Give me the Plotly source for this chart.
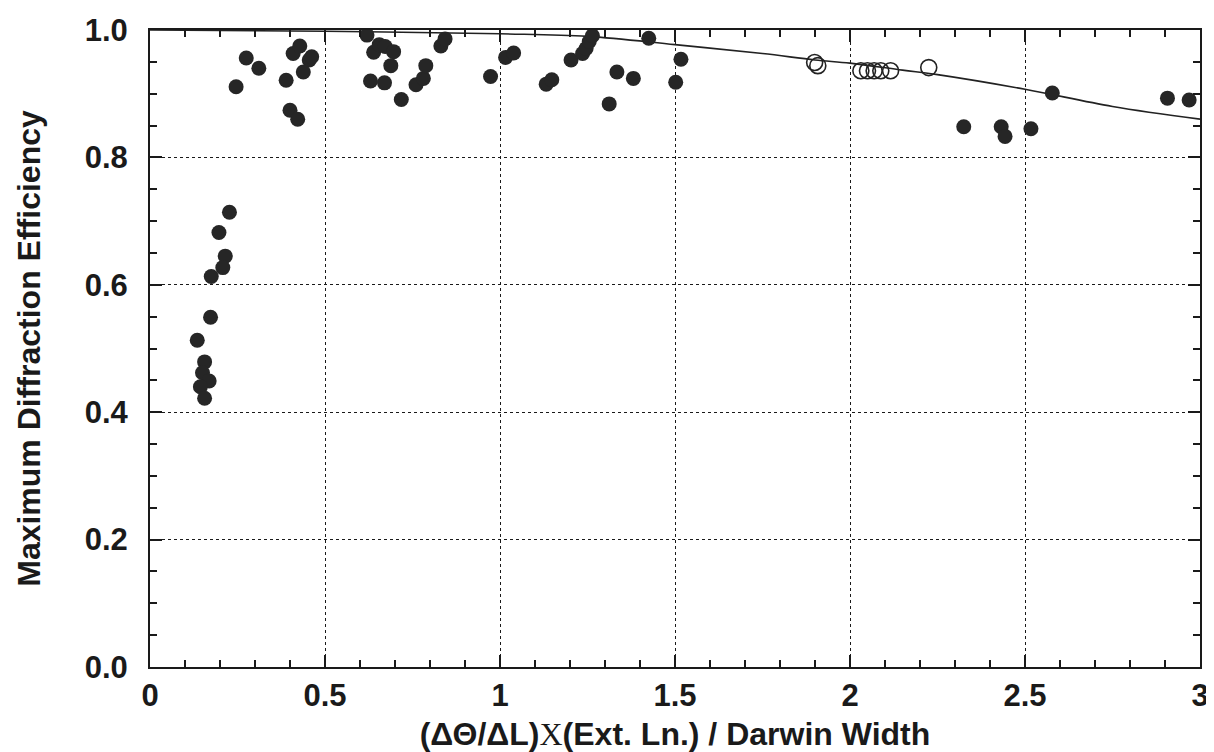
import plotly.graph_objects as go

# Measured (filled circles)
filled_x = [0.246, 0.275, 0.311, 0.389, 0.400, 0.422, 0.409, 0.428, 0.455, 0.462, 0.438,
            0.620, 0.639, 0.655, 0.672, 0.696, 0.688, 0.630, 0.670, 0.718, 0.760, 0.781,
            0.788, 0.831, 0.843, 0.973, 1.016, 1.039,
            0.227, 0.197, 0.215, 0.208, 0.175, 0.173, 0.135, 0.156, 0.150, 0.169, 0.144, 0.156,
            1.132, 1.148, 1.203, 1.236, 1.246, 1.255, 1.264, 1.425, 1.334, 1.381, 1.312,
            1.517, 1.502,
            2.325, 2.432, 2.443, 2.517, 2.578, 2.907, 2.969]
filled_y = [0.911, 0.956, 0.940, 0.921, 0.874, 0.860, 0.963, 0.975, 0.953, 0.958, 0.934,
            0.992, 0.965, 0.977, 0.974, 0.966, 0.944, 0.920, 0.917, 0.891, 0.914, 0.924,
            0.944, 0.975, 0.986, 0.927, 0.957, 0.964,
            0.714, 0.682, 0.645, 0.627, 0.613, 0.549, 0.513, 0.479, 0.462, 0.449, 0.440, 0.422,
            0.915, 0.922, 0.953, 0.963, 0.971, 0.982, 0.991, 0.987, 0.934, 0.924, 0.884,
            0.954, 0.918,
            0.848, 0.848, 0.833, 0.845, 0.901, 0.893, 0.890]

# Open circles
open_x = [1.899, 1.908, 2.031, 2.050, 2.069, 2.088, 2.116, 2.225]
open_y = [0.949, 0.944, 0.936, 0.936, 0.936, 0.936, 0.936, 0.941]

# Theory curve
curve_x = [0.0, 0.5, 1.0, 1.25, 1.5, 1.75, 1.9, 2.0, 2.15, 2.25, 2.5, 2.75, 3.0]
curve_y = [1.0, 0.998, 0.994, 0.990, 0.977, 0.963, 0.953, 0.948, 0.937, 0.930, 0.907, 0.880, 0.860]

x_ticks = [0, 0.5, 1, 1.5, 2, 2.5, 3]
x_tick_labels = ["0", "0.5", "1", "1.5", "2", "2.5", "3"]
y_ticks = [0.0, 0.2, 0.4, 0.6, 0.8, 1.0]
y_tick_labels = ["0.0", "0.2", "0.4", "0.6", "0.8", "1.0"]

fig = go.Figure()
fig.add_trace(go.Scatter(x=curve_x, y=curve_y, mode="lines",
                         line=dict(color="#222222", width=1.6, shape="spline"),
                         showlegend=False, hoverinfo="skip"))
fig.add_trace(go.Scatter(x=filled_x, y=filled_y, mode="markers",
                         marker=dict(symbol="circle", size=15, color="#262626",
                                     line=dict(width=0)),
                         showlegend=False))
fig.add_trace(go.Scatter(x=open_x, y=open_y, mode="markers",
                         marker=dict(symbol="circle-open", size=16, color="#222222",
                                     line=dict(width=1.6)),
                         showlegend=False))

font_family = "Liberation Sans, Arial, sans-serif"
x_title = ("(ΔΘ/ΔL)<span style='font-family:Liberation Serif, Times New Roman, serif;"
           "font-weight:normal'>X</span>(Ext. Ln.) / Darwin Width")

fig.update_layout(
    width=1206, height=744,
    margin=dict(l=142, r=14, t=22, b=85),
    paper_bgcolor="white", plot_bgcolor="white",
    font=dict(family=font_family, color="#1a1a1a", size=20),
    xaxis=dict(
        range=[0, 3], tickvals=x_ticks, ticktext=x_tick_labels,
        automargin=False, ticklabeloverflow="allow",
        showline=True, linecolor="#1a1a1a", linewidth=2, mirror="allticks",
        ticks="inside", ticklen=12, tickcolor="#1a1a1a", tickwidth=1.5,
        showgrid=True, gridcolor="#1a1a1a", griddash="dot", gridwidth=1,
        minor=dict(dtick=0.1, ticks="inside", ticklen=7, tickcolor="#1a1a1a", showgrid=False),
        zeroline=False,
        tickfont=dict(size=31, family=font_family, weight="bold"),
        title=dict(text=x_title,
                   font=dict(size=32, family=font_family, weight="bold"), standoff=10),
    ),
    yaxis=dict(
        range=[0, 1.0], tickvals=y_ticks, ticktext=y_tick_labels,
        automargin=False,
        showline=True, linecolor="#1a1a1a", linewidth=2, mirror="allticks",
        ticks="inside", ticklen=12, tickcolor="#1a1a1a", tickwidth=1.5,
        ticklabelstandoff=14,
        showgrid=True, gridcolor="#1a1a1a", griddash="dot", gridwidth=1,
        minor=dict(dtick=0.05, ticks="inside", ticklen=7, tickcolor="#1a1a1a", showgrid=False),
        zeroline=False,
        tickfont=dict(size=31, family=font_family, weight="bold"),
        title=dict(text="Maximum Diffraction Efficiency",
                   font=dict(size=32, family=font_family, weight="bold"), standoff=34),
    ),
)

fig.write_html("out.html")
